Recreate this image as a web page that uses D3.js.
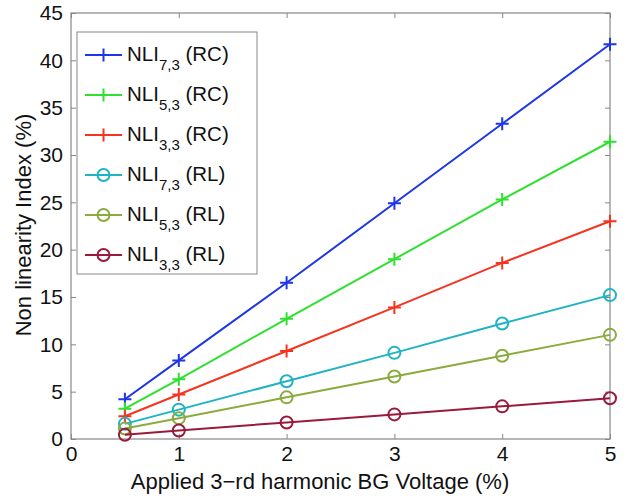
<!DOCTYPE html>
<html><head><meta charset="utf-8">
<script src="https://cdn.jsdelivr.net/npm/d3@7"></script>
<style>body{margin:0;background:#fff}svg{display:block}text{font-family:"Liberation Sans",Arial,sans-serif;fill:#111}</style>
</head><body>
<script>
const xValues = [0.5, 1, 2, 3, 4, 5];
const nli73RC = [4.2, 8.3, 16.5, 24.9, 33.3, 41.7];
const nli53RC = [3.2, 6.3, 12.7, 19.0, 25.3, 31.4];
const nli33RC = [2.4, 4.7, 9.3, 13.9, 18.6, 23.0];
const nli73RL = [1.6, 3.1, 6.1, 9.1, 12.2, 15.2];
const nli53RL = [1.1, 2.2, 4.4, 6.6, 8.8, 11.0];
const nli33RL = [0.45, 0.9, 1.75, 2.6, 3.45, 4.3];
const xTicks = [0, 1, 2, 3, 4, 5];
const yTicks = [0, 5, 10, 15, 20, 25, 30, 35, 40, 45];
const seriesNames = ["7,3", "5,3", "3,3", "7,3", "5,3", "3,3"];
const seriesTypes = ["RC", "RC", "RC", "RL", "RL", "RL"];
const seriesData = [nli73RC, nli53RC, nli33RC, nli73RL, nli53RL, nli33RL];
const colors = ["#1f36e6", "#2fe02f", "#f5331f", "#1fb4c2", "#8aab3e", "#9a1a3c"];

const W = 629, H = 499;
const m = {l: 71, r: 19, t: 13, b: 60};
const svg = d3.select("body").append("svg").attr("width", W).attr("height", H);
const x = d3.scaleLinear().domain([0, 5]).range([m.l, W - m.r]);
const y = d3.scaleLinear().domain([0, 45]).range([H - m.b, m.t]);
const axisColor = "#888";

svg.append("rect").attr("x", x(0)).attr("y", y(45)).attr("width", x(5) - x(0)).attr("height", y(0) - y(45))
  .attr("fill", "none").attr("stroke", axisColor).attr("stroke-width", 1.2);

function styleAxis(g) {
  g.select(".domain").remove();
  g.selectAll(".tick line").attr("stroke", axisColor);
  g.selectAll(".tick text").style("font-size", "21px").attr("fill", "#111");
}
svg.append("g").attr("transform", `translate(0,${y(0)})`)
  .call(d3.axisBottom(x).tickValues(xTicks).tickSize(-5).tickPadding(7).tickFormat(d3.format("d")))
  .call(styleAxis);
svg.append("g").attr("transform", `translate(0,${y(45)})`)
  .call(d3.axisTop(x).tickValues(xTicks).tickSize(-5).tickFormat(""))
  .call(styleAxis);
svg.append("g").attr("transform", `translate(${x(0)},0)`)
  .call(d3.axisLeft(y).tickValues(yTicks).tickSize(-5).tickPadding(8).tickFormat(d3.format("d")))
  .call(styleAxis);
svg.append("g").attr("transform", `translate(${x(5)},0)`)
  .call(d3.axisRight(y).tickValues(yTicks).tickSize(-5).tickFormat(""))
  .call(styleAxis);

svg.append("text").attr("x", 320).attr("y", 489).attr("text-anchor", "middle")
  .style("font-size", "22px").text("Applied 3\u2212rd harmonic BG Voltage (%)");
svg.append("text").attr("transform", `translate(31,225) rotate(-90)`).attr("text-anchor", "middle")
  .style("font-size", "22px").text("Non linearity Index (%)");

const line = d3.line().x((d, i) => x(xValues[i])).y(d => y(d));
function marker(g, type, color, cx, cy) {
  if (type === "RC") {
    g.append("path").attr("d", `M${cx - 6.5},${cy}H${cx + 6.5}M${cx},${cy - 6.5}V${cy + 6.5}`)
      .attr("stroke", color).attr("stroke-width", 2).attr("fill", "none");
  } else {
    g.append("circle").attr("cx", cx).attr("cy", cy).attr("r", 6)
      .attr("stroke", color).attr("stroke-width", 2).attr("fill", "none");
  }
}
seriesData.forEach((vals, s) => {
  const g = svg.append("g");
  g.append("path").datum(vals).attr("d", line).attr("fill", "none").attr("stroke", colors[s]).attr("stroke-width", 2);
  vals.forEach((v, i) => marker(g, seriesTypes[s], colors[s], x(xValues[i]), y(v)));
});

const lg = svg.append("g");
lg.append("rect").attr("x", 77).attr("y", 32).attr("width", 180).attr("height", 242)
  .attr("fill", "#fff").attr("stroke", axisColor).attr("stroke-width", 1);
seriesData.forEach((vals, s) => {
  const cy = 55 + s * 40;
  lg.append("line").attr("x1", 85).attr("x2", 122).attr("y1", cy).attr("y2", cy)
    .attr("stroke", colors[s]).attr("stroke-width", 2);
  marker(lg, seriesTypes[s], colors[s], 103.5, cy);
  const t = lg.append("text").attr("x", 127).attr("y", cy + 6).style("font-size", "20.5px");
  t.append("tspan").text("NLI");
  t.append("tspan").attr("dy", 9).style("font-size", "15px").text(seriesNames[s]);
  t.append("tspan").attr("dy", -9).text(" (" + seriesTypes[s] + ")");
});
</script>
</body></html>
